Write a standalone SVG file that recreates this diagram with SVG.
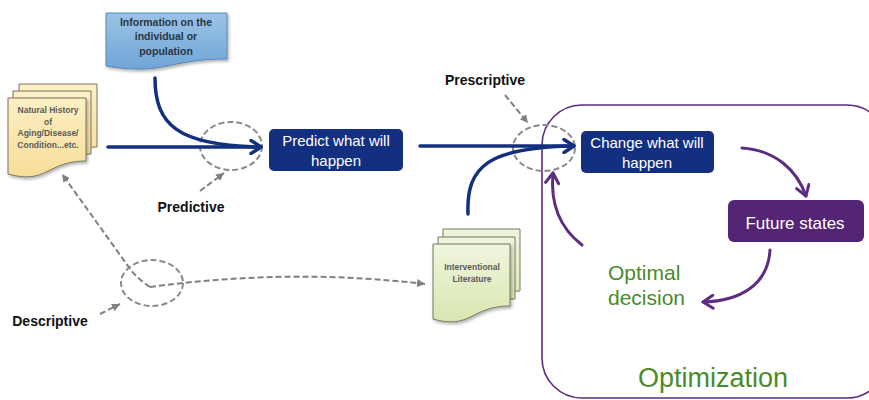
<svg xmlns="http://www.w3.org/2000/svg" width="869" height="400" viewBox="0 0 869 400">
<style>
.navybox{fill:#12307f}
.purplebox{fill:#542475}
.wt{fill:#fff;font-family:"Liberation Sans",Arial,sans-serif;font-size:15px;text-anchor:middle}
.lbl{fill:#111;font-family:"Liberation Sans",Arial,sans-serif;font-size:14px;font-weight:bold;text-anchor:middle}
.doct{font-family:"Liberation Sans",Arial,sans-serif;font-weight:bold;text-anchor:middle}
.green{fill:#4a8a2a;font-family:"Liberation Sans",Arial,sans-serif}
.navy{fill:none;stroke:#12307f;stroke-width:3.5;stroke-linecap:round}
.purp{fill:none;stroke:#5b2c80;stroke-width:3;stroke-linecap:round}
.dash{fill:none;stroke:#808080;stroke-width:2;stroke-dasharray:6 3}
.ell{fill:none;stroke:#8a8a8a;stroke-width:2;stroke-dasharray:6 3}
</style>
<defs>
<linearGradient id="gblue" x1="0" y1="0" x2="0" y2="1"><stop offset="0" stop-color="#9cc3e6"/><stop offset="1" stop-color="#6fa5d6"/></linearGradient>
<linearGradient id="gyel" x1="0" y1="0" x2="0" y2="1"><stop offset="0" stop-color="#fdf0c4"/><stop offset="1" stop-color="#f6dc98"/></linearGradient>
<linearGradient id="ggrn" x1="0" y1="0" x2="0" y2="1"><stop offset="0" stop-color="#f0f5de"/><stop offset="1" stop-color="#d8e6b0"/></linearGradient>
<filter id="sh" x="-10%" y="-10%" width="130%" height="130%"><feDropShadow dx="1.5" dy="2" stdDeviation="1.5" flood-color="#000" flood-opacity="0.3"/></filter>
<marker id="an" markerUnits="userSpaceOnUse" markerWidth="16" markerHeight="16" viewBox="0 0 16 16" refX="13" refY="8" orient="auto"><path d="M3,1.5 L13,8 L3,14.5" fill="none" stroke="#12307f" stroke-width="3.5" stroke-linecap="round" stroke-linejoin="round"/></marker>
<marker id="ap" markerUnits="userSpaceOnUse" markerWidth="16" markerHeight="16" viewBox="0 0 16 16" refX="13" refY="8" orient="auto"><path d="M3,1.5 L13,8 L3,14.5" fill="none" stroke="#5b2c80" stroke-width="3" stroke-linecap="round" stroke-linejoin="round"/></marker>
<marker id="ag" markerUnits="userSpaceOnUse" markerWidth="10" markerHeight="10" viewBox="0 0 10 10" refX="8" refY="5" orient="auto"><path d="M0,1 L8,5 L0,9 Z" fill="#808080"/></marker>
</defs>

<rect id="optimization-frame" x="542" y="105" width="345" height="293" rx="40" ry="40" fill="none" stroke="#5b2c80" stroke-width="1.6"/>

<g id="info">
<path d="M106,13 H227 V59 C166,59 166,76 106,66 Z" fill="url(#gblue)" stroke="#5a88b0" stroke-width="1" filter="url(#sh)"/>
<text class="doct" fill="#2b3542" font-size="10.5" x="166" y="26">Information on the</text>
<text class="doct" fill="#2b3542" font-size="10.5" x="166" y="40">individual or</text>
<text class="doct" fill="#2b3542" font-size="10.5" x="166" y="55">population</text>
</g>

<g id="natural-history">
<path d="M19,84 H97 V147 C58,147 58,171 19,160 Z" fill="url(#gyel)" stroke="#7a7260" stroke-width="1"/>
<path d="M13,91 H91 V154 C52,154 52,178 13,167 Z" fill="url(#gyel)" stroke="#7a7260" stroke-width="1"/>
<path d="M8,98 H86 V161 C47,161 47,185 8,174 Z" fill="url(#gyel)" stroke="#7a7260" stroke-width="1" filter="url(#sh)"/>
<text class="doct" fill="#5a5a5a" font-size="8.5" x="48" y="113">Natural History</text>
<text class="doct" fill="#5a5a5a" font-size="8.5" x="48" y="125">of</text>
<text class="doct" fill="#5a5a5a" font-size="8.5" x="48" y="136">Aging/Disease/</text>
<text class="doct" fill="#5a5a5a" font-size="8.5" x="48" y="148">Condition...etc.</text>
</g>

<g id="interventional">
<path d="M443,229 H520 V291 C481,291 481,315 443,304 Z" fill="url(#ggrn)" stroke="#6f7a5f" stroke-width="1"/>
<path d="M438,237 H515 V299 C476,299 476,323 438,312 Z" fill="url(#ggrn)" stroke="#6f7a5f" stroke-width="1"/>
<path d="M433,244 H510 V306 C471,306 471,330 433,319 Z" fill="url(#ggrn)" stroke="#6f7a5f" stroke-width="1" filter="url(#sh)"/>
<text class="doct" fill="#5a5a5a" font-size="8.5" x="472" y="270">Interventional</text>
<text class="doct" fill="#5a5a5a" font-size="8.5" x="472" y="282">Literature</text>
</g>

<g id="predict">
<rect class="navybox" x="269" y="129" width="134" height="42" rx="5"/>
<text class="wt" x="336" y="146">Predict what will</text>
<text class="wt" x="336" y="166">happen</text>
</g>

<g id="change">
<rect class="navybox" x="581" y="131" width="133" height="42" rx="5"/>
<text class="wt" x="647" y="148">Change what will</text>
<text class="wt" x="647" y="168">happen</text>
</g>

<g id="future">
<rect class="purplebox" x="728" y="200" width="136" height="42" rx="6"/>
<text class="wt" style="font-size:17px" x="795" y="229">Future states</text>
</g>

<g id="labels">
<text class="lbl" x="191" y="212">Predictive</text>
<text class="lbl" x="485" y="85">Prescriptive</text>
<text class="lbl" x="50" y="326">Descriptive</text>
<text class="green" font-size="21" x="608" y="280">Optimal</text>
<text class="green" font-size="21" x="608" y="305">decision</text>
<text class="green" font-size="27" x="638" y="387">Optimization</text>
</g>

<g id="connectors">
<ellipse class="ell" cx="231" cy="146" rx="31" ry="24"/>
<ellipse class="ell" cx="544" cy="148" rx="31" ry="23"/>
<ellipse class="ell" cx="152" cy="283" rx="31" ry="23"/>
<path class="navy" d="M108,147 L261,147" marker-end="url(#an)"/>
<path class="navy" d="M155,78 C155,125 178,145 258,147"/>
<path class="navy" d="M420,146 L574,146" marker-end="url(#an)"/>
<path class="navy" d="M468,214 C466,165 490,148 571,146"/>
<path class="purp" d="M742,148 C775,150 797,170 806,196" marker-end="url(#ap)"/>
<path class="purp" d="M770,250 C768,285 740,301 703,302" marker-end="url(#ap)"/>
<path class="purp" d="M582,245 C560,228 550,205 553,173" marker-end="url(#ap)"/>
<path class="dash" d="M200,191 L224,173" marker-end="url(#ag)"/>
<path class="dash" d="M505,95 L528,123" marker-end="url(#ag)"/>
<path class="dash" d="M100,314 L120,304" marker-end="url(#ag)"/>
<path class="dash" d="M150,287 Q134,276 128,266 L62,174" marker-end="url(#ag)"/>
<path class="dash" d="M150,287 Q290,268 425,284" marker-end="url(#ag)"/>
</g>
</svg>
